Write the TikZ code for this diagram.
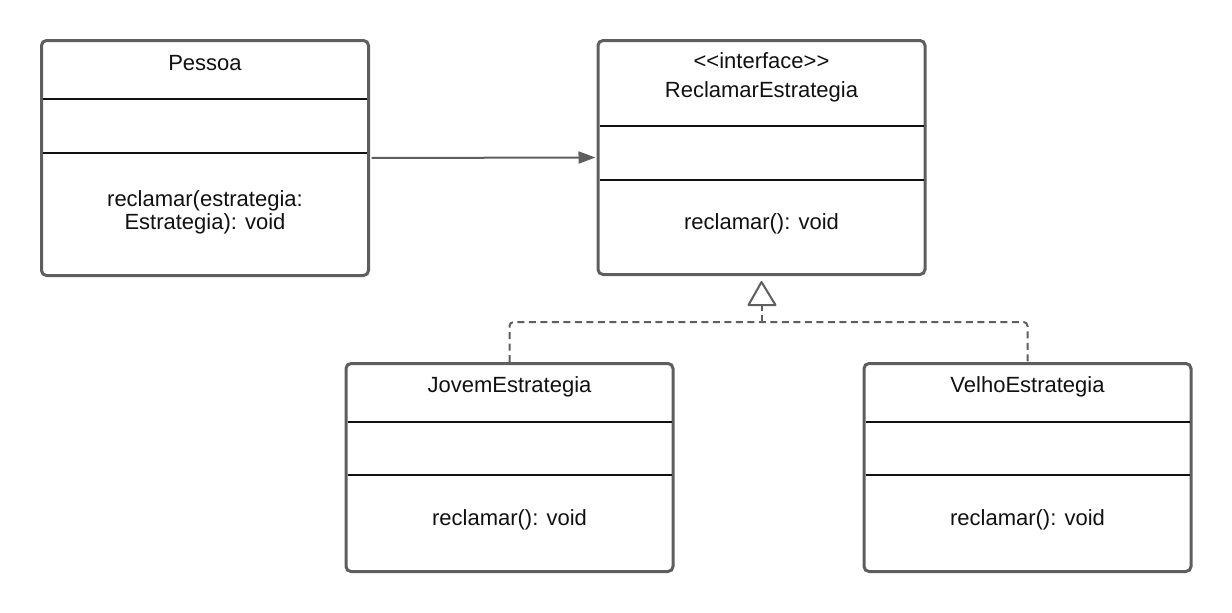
\documentclass[tikz,border=0pt]{standalone}
\usepackage{fontspec}
\setmainfont{Liberation Sans}[Ligatures=TeXOff]
\usetikzlibrary{arrows.meta}
\definecolor{edge}{HTML}{5E5E5E}
\definecolor{ink}{HTML}{111111}
\begin{document}
\begin{tikzpicture}[x=1pt,y=-1pt,
  classbox/.style={draw=edge,line width=3pt,rounded corners=5pt,fill=white,
    minimum width=327pt,minimum height=235pt,inner sep=0pt},
  smallbox/.style={classbox,minimum height=208pt},
  label/.style={anchor=base,inner sep=0pt,text=ink,font=\fontsize{22}{23}\selectfont},
  sepline/.style={draw=ink,line width=1.3pt},
  assoc/.style={draw=edge,line width=2pt,-{Triangle[length=17pt,width=12pt]}},
  realize/.style={draw=edge,line width=2pt,dash pattern=on 7pt off 4.5pt},
]
\useasboundingbox (0,0) rectangle (1232,613);

% class boxes
\node[classbox] (pessoa) at (205,158) {};
\node[classbox,minimum height=234pt] (reclamar) at (761.5,157.5) {};
\node[smallbox] (jovem) at (509.5,467.5) {};
\node[smallbox] (velho) at (1027.5,467.5) {};

% Pessoa
\node[label] (pessoaName) at (205,70) {Pessoa};
\draw[sepline] ([xshift=3pt]pessoa.west |- 0,99) -- ([xshift=-3pt]pessoa.east |- 0,99);
\draw[sepline] ([xshift=3pt]pessoa.west |- 0,153) -- ([xshift=-3pt]pessoa.east |- 0,153);
\node[label] (pessoaOpA) at (205,206) {reclamar(estrategia:};
\node[label] (pessoaOpB) at (205,229) {Estrategia): void};

% ReclamarEstrategia
\node[label] (stereo) at (761.5,68) {<\kern0pt<interface>\kern0pt>};
\node[label] (reclamarName) at (761.5,97) {ReclamarEstrategia};
\draw[sepline] ([xshift=3pt]reclamar.west |- 0,126) -- ([xshift=-3pt]reclamar.east |- 0,126);
\draw[sepline] ([xshift=3pt]reclamar.west |- 0,180) -- ([xshift=-3pt]reclamar.east |- 0,180);
\node[label] (reclamarOp) at (761.5,229) {reclamar(): void};

% JovemEstrategia
\node[label] (jovemName) at (509.5,392) {JovemEstrategia};
\draw[sepline] ([xshift=3pt]jovem.west |- 0,422) -- ([xshift=-3pt]jovem.east |- 0,422);
\draw[sepline] ([xshift=3pt]jovem.west |- 0,475) -- ([xshift=-3pt]jovem.east |- 0,475);
\node[label] (jovemOp) at (509.5,525) {reclamar(): void};

% VelhoEstrategia
\node[label] (velhoName) at (1027.5,392) {VelhoEstrategia};
\draw[sepline] ([xshift=3pt]velho.west |- 0,422) -- ([xshift=-3pt]velho.east |- 0,422);
\draw[sepline] ([xshift=3pt]velho.west |- 0,475) -- ([xshift=-3pt]velho.east |- 0,475);
\node[label] (velhoOp) at (1027.5,525) {reclamar(): void};

% association
\draw[assoc] ([xshift=1.5pt]pessoa.east) -- ([xshift=-1pt]reclamar.west);

% realization (canvas yshift points up, so the apex sits below the box with a negative shift)
\coordinate (join) at (762,322);
\coordinate (apex) at ([yshift=-6pt]reclamar.south);
\draw[realize,rounded corners=4pt] (jovem.north) |- (join) -| (velho.north);
\draw[realize] (join) -- (762,306);
\draw[draw=edge,line width=2pt,fill=white,line join=round]
  (apex) -- (775.5,305) -- (748.5,305) -- cycle;
\end{tikzpicture}
\end{document}
